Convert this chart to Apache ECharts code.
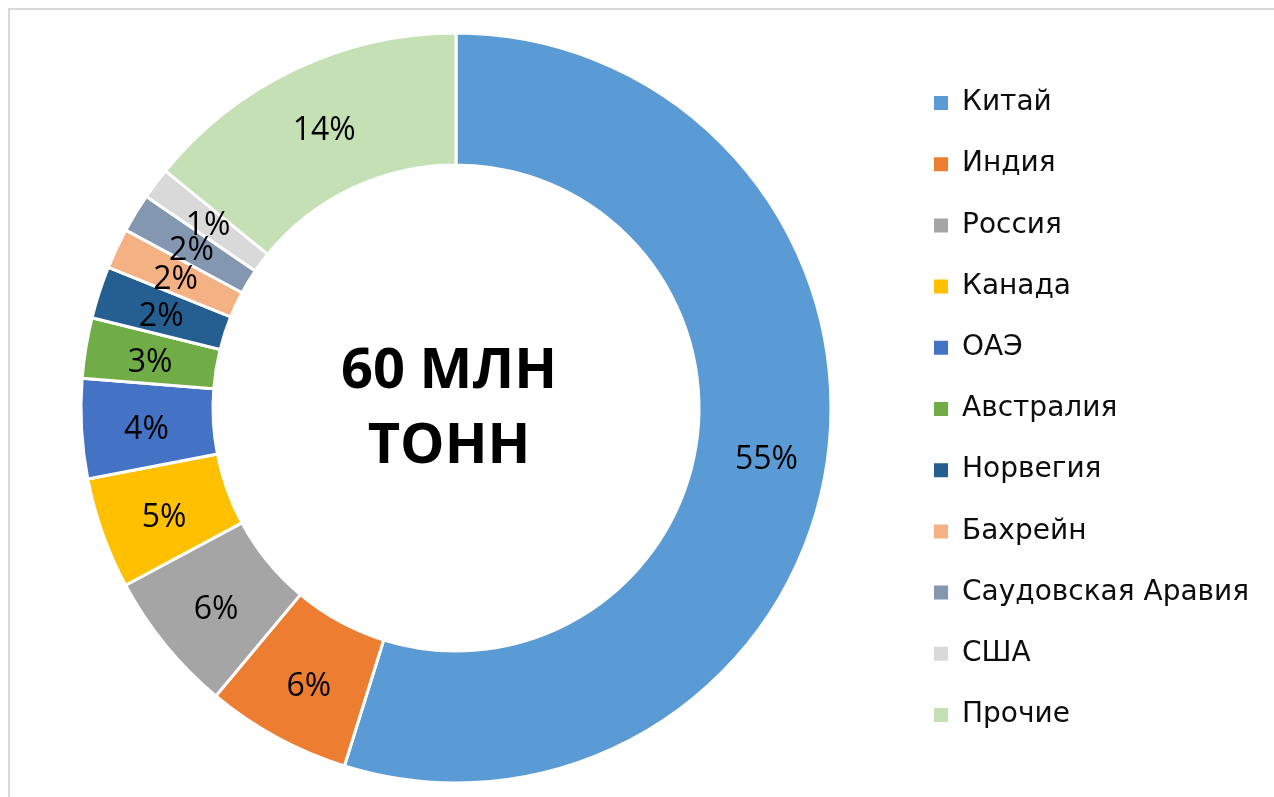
<!DOCTYPE html>
<html>
<head>
<meta charset="utf-8">
<script src="https://cdn.jsdelivr.net/npm/echarts@6/dist/echarts.min.js"></script>
<style>
  html, body { margin: 0; padding: 0; background: #fff; }
  #chart { width: 1274px; height: 797px; }
</style>
</head>
<body>
<div id="chart"></div>
<script>
// страны и доли (%)
const countries = ['Китай', 'Индия', 'Россия', 'Канада', 'ОАЭ', 'Австралия', 'Норвегия', 'Бахрейн', 'Саудовская Аравия', 'США', 'Прочие']
const shares = [54.8, 6.25, 6.1, 4.8, 4.3, 2.6, 2.25, 1.75, 1.67, 1.36, 14.1]
const colors = ['#5B9BD5', '#ED7D31', '#A5A5A5', '#FFC000', '#4472C4', '#70AD47', '#255E91', '#F4B183', '#8497B0', '#D9D9D9', '#C5E0B4']
const centerText = '60 МЛН\nТОНН'

const chart = echarts.init(document.getElementById('chart'))

chart.setOption({
    animation: false,
    color: colors,
    textStyle: { fontFamily: 'Open Sans' },
    legend: {
        orient: 'vertical',
        left: 927,
        top: 84,
        itemWidth: 16,
        itemHeight: 16,
        itemGap: 33.2,
        icon: 'rect',
        textStyle: { fontFamily: 'DejaVu Sans', fontSize: 28, color: '#0d0d0d', lineHeight: 26, padding: [0, 0, 0, 8] },
        data: countries
    },
    graphic: [
        {
            type: 'rect',
            shape: { x: 9, y: 9, width: 1400, height: 900 },
            style: { fill: 'none', stroke: '#d9d9d9', lineWidth: 2 },
            silent: true
        },
        {
            type: 'text',
            x: 449,
            y: 410,
            style: {
                text: centerText,
                fontFamily: 'Open Sans',
                fontWeight: 'bold',
                fontSize: 56,
                lineHeight: 75,
                fill: '#000',
                align: 'center',
                verticalAlign: 'middle'
            },
            silent: true
        }
    ],
    series: [{
        type: 'pie',
        center: [456, 408],
        radius: [243, 375],
        startAngle: 90,
        clockwise: true,
        avoidLabelOverlap: false,
        itemStyle: { borderColor: '#fff', borderWidth: 3 },
        label: {
            position: 'inside',
            fontSize: 32,
            color: '#000',
            offset: [2, 5],
            formatter: p => Math.round(p.value) + '%'
        },
        labelLayout: { hideOverlap: false },
        labelLine: { show: false },
        emphasis: { disabled: true },
        data: countries.map((name, i) => ({ name, value: shares[i] }))
    }]
})
</script>
</body>
</html>
